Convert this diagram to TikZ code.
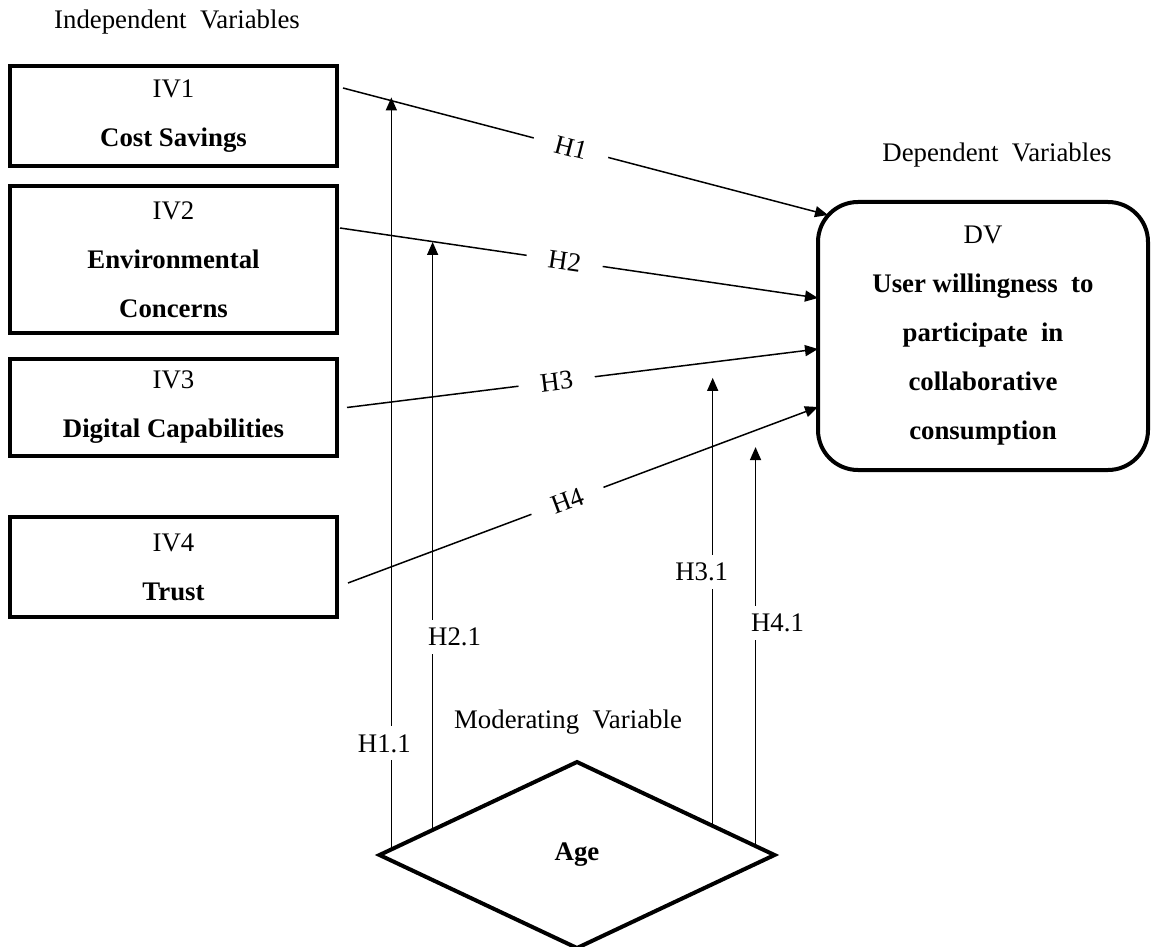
\documentclass[tikz,border=0pt]{standalone}
\usepackage{fontspec}
\setmainfont{Liberation Serif}
\usetikzlibrary{calc,shapes.geometric,arrows.meta}

\begin{document}
\begin{tikzpicture}[x=0.5pt,y=-0.5pt,
  every node/.style={font=\fontsize{13.4}{24.5}\selectfont},
  varbox/.style={draw,line width=2pt,minimum width=163.5pt,align=center,outer sep=0pt},
  link/.style={line width=0.75pt,-{Triangle[length=6.5pt,width=5.5pt]}},
  hlab/.style={fill=white,sloped,inner xsep=11pt,inner ysep=1pt},
  mlab/.style={fill=white,inner xsep=1pt,inner ysep=4pt}]
  \useasboundingbox (0,0) rectangle (1152,947);

  % independent variables
  \node (indep) at (177,22) {Independent\ \ Variables};
  \node[varbox,minimum height=50pt] (iv1) at (173.5,116) {IV1\\\textbf{Cost Savings}};
  \node[varbox,minimum height=73.5pt] (iv2) at (173.5,259.5) {IV2\\\textbf{Environmental}\\\textbf{Concerns}};
  \node[varbox,minimum height=48.5pt] (iv3) at (173.5,407.5) {IV3\\\textbf{Digital Capabilities}};
  \node[varbox,minimum height=50pt] (iv4) at (173.5,567) {IV4\\\textbf{Trust}};

  % dependent variable
  \node (dep) at (997,155) {Dependent\ \ Variables};
  \node[varbox,rounded corners=20pt,minimum width=165pt,minimum height=134pt] (dv) at (983,336)
       {DV\\\textbf{User willingness\ \ to}\\\textbf{participate\ \ in}\\\textbf{collaborative}\\\textbf{consumption}};

  % moderator
  \node (mod) at (568,722) {Moderating\ \ Variable};
  \node[draw,diamond,line width=2pt,minimum width=197.5pt,minimum height=93pt,inner sep=0pt,outer sep=0pt] (age) at (577,855) {\textbf{Age}};

  % hypotheses
  \draw[link] ([xshift=3pt,yshift=14pt]iv1.east) -- node[hlab,pos=.47]{H1} ([xshift=5pt,yshift=60.5pt]dv.west);
  \draw[link] ([xshift=1.5pt,yshift=15.75pt]iv2.east) -- node[hlab,pos=.47]{H2} ([yshift=19pt]dv.west);
  \draw[link] ([xshift=5pt]iv3.east) -- node[hlab,pos=.445]{H3} ([yshift=-6.5pt]dv.west);
  \draw[link] ([xshift=5.5pt,yshift=-8pt]iv4.east) -- node[hlab,pos=.467]{H4} ([yshift=-35.5pt]dv.west);

  % moderating effects
  \draw[link] ($(age.west)!.06!(age.north)$) -- node[mlab,pos=.141,xshift=-3.5pt]{H1.1} ++(0,-752);
  \draw[link] ($(age.west)!.269!(age.north)$) -- node[mlab,pos=.328,xshift=11pt]{H2.1} ++(0,-588);
  \draw[link] ($(age.north)!.687!(age.east)$) -- node[mlab,pos=.567,xshift=-5.5pt]{H3.1} ++(0,-448);
  \draw[link] ($(age.north)!.904!(age.east)$) -- node[mlab,pos=.559,xshift=11pt]{H4.1} ++(0,-399);
\end{tikzpicture}
\end{document}
